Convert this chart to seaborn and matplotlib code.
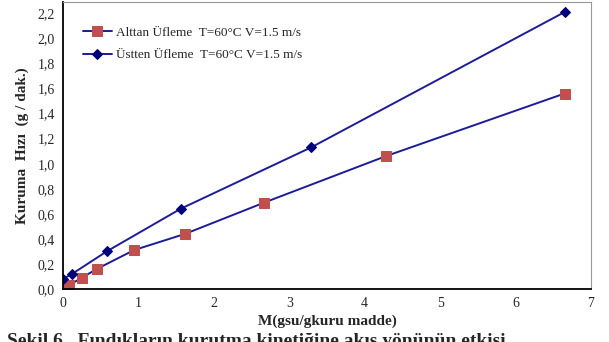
import matplotlib
matplotlib.use("Agg")
import matplotlib.pyplot as plt
import seaborn as sns
import pandas as pd
from matplotlib.ticker import FuncFormatter

# Alttan Üfleme (bottom blowing)
alt_m = [0.0, 0.08, 0.25, 0.45, 0.94, 1.62, 2.67, 4.28, 6.65]
alt_rate = [0.01, 0.03, 0.09, 0.16, 0.31, 0.44, 0.69, 1.06, 1.56]

# Üstten Üfleme (top blowing)
ust_m = [0.0, 0.12, 0.58, 1.56, 3.29, 6.65]
ust_rate = [0.08, 0.12, 0.30, 0.64, 1.13, 2.21]

alt_label = "Alttan Üfleme  T=60\u00b0C V=1.5 m/s"
ust_label = "Üstten Üfleme  T=60\u00b0C V=1.5 m/s"

sns.set_style("white")
plt.rcParams["font.family"] = ["Liberation Serif", "DejaVu Serif"]

df = pd.concat([
    pd.DataFrame({"M": alt_m, "rate": alt_rate, "seri": alt_label}),
    pd.DataFrame({"M": ust_m, "rate": ust_rate, "seri": ust_label}),
])

fig = plt.figure(figsize=(6.09, 3.42), dpi=100)
ax = fig.add_axes([0.1034, 0.155, 0.867, 0.839])

line_col = "#1c1c96"
sns.lineplot(
    data=df[df.seri == alt_label], x="M", y="rate", ax=ax,
    color=line_col, lw=1.4, marker="s", markersize=6.5,
    markerfacecolor="#c0504d", markeredgecolor="#c0504d",
    label=alt_label, sort=False,
)
sns.lineplot(
    data=df[df.seri == ust_label], x="M", y="rate", ax=ax,
    color=line_col, lw=1.4, marker="D", markersize=5,
    markerfacecolor="#00007a", markeredgecolor="#00007a",
    label=ust_label, sort=False,
)

ax.set_xlim(0, 7)
ax.set_ylim(0, 2.29)
ax.set_xticks(range(0, 8))
ax.set_yticks([i * 0.2 for i in range(12)])
ax.yaxis.set_major_formatter(FuncFormatter(lambda v, p: f"{v:.1f}".replace(".", ",")))
ax.tick_params(axis="both", length=0, labelsize=10, pad=6)

for s in ["left", "bottom"]:
    ax.spines[s].set_color("black")
    ax.spines[s].set_linewidth(1.3)
for s in ["top", "right"]:
    ax.spines[s].set_color("#999999")
    ax.spines[s].set_linewidth(0.8)

ax.set_xlabel("M(gsu/gkuru madde)", fontsize=11, fontweight="bold", labelpad=3)
ax.set_ylabel("Kuruma  Hızı  (g / dak.)", fontsize=11, fontweight="bold", labelpad=6)

leg = ax.legend(loc="upper left", bbox_to_anchor=(0.015, 0.955), frameon=False,
                fontsize=9.5, handlelength=2.2, handletextpad=0.3, labelspacing=0.75)

# figure caption, cut by the lower edge as in the source
fig.text(0.012, 1 - 333 / 342, "Şekil 6.  Fındıkların kurutma kinetiğine akış yönünün etkisi",
         fontsize=14, fontweight="bold", va="top", ha="left")

fig.savefig("out.png", dpi=100)
